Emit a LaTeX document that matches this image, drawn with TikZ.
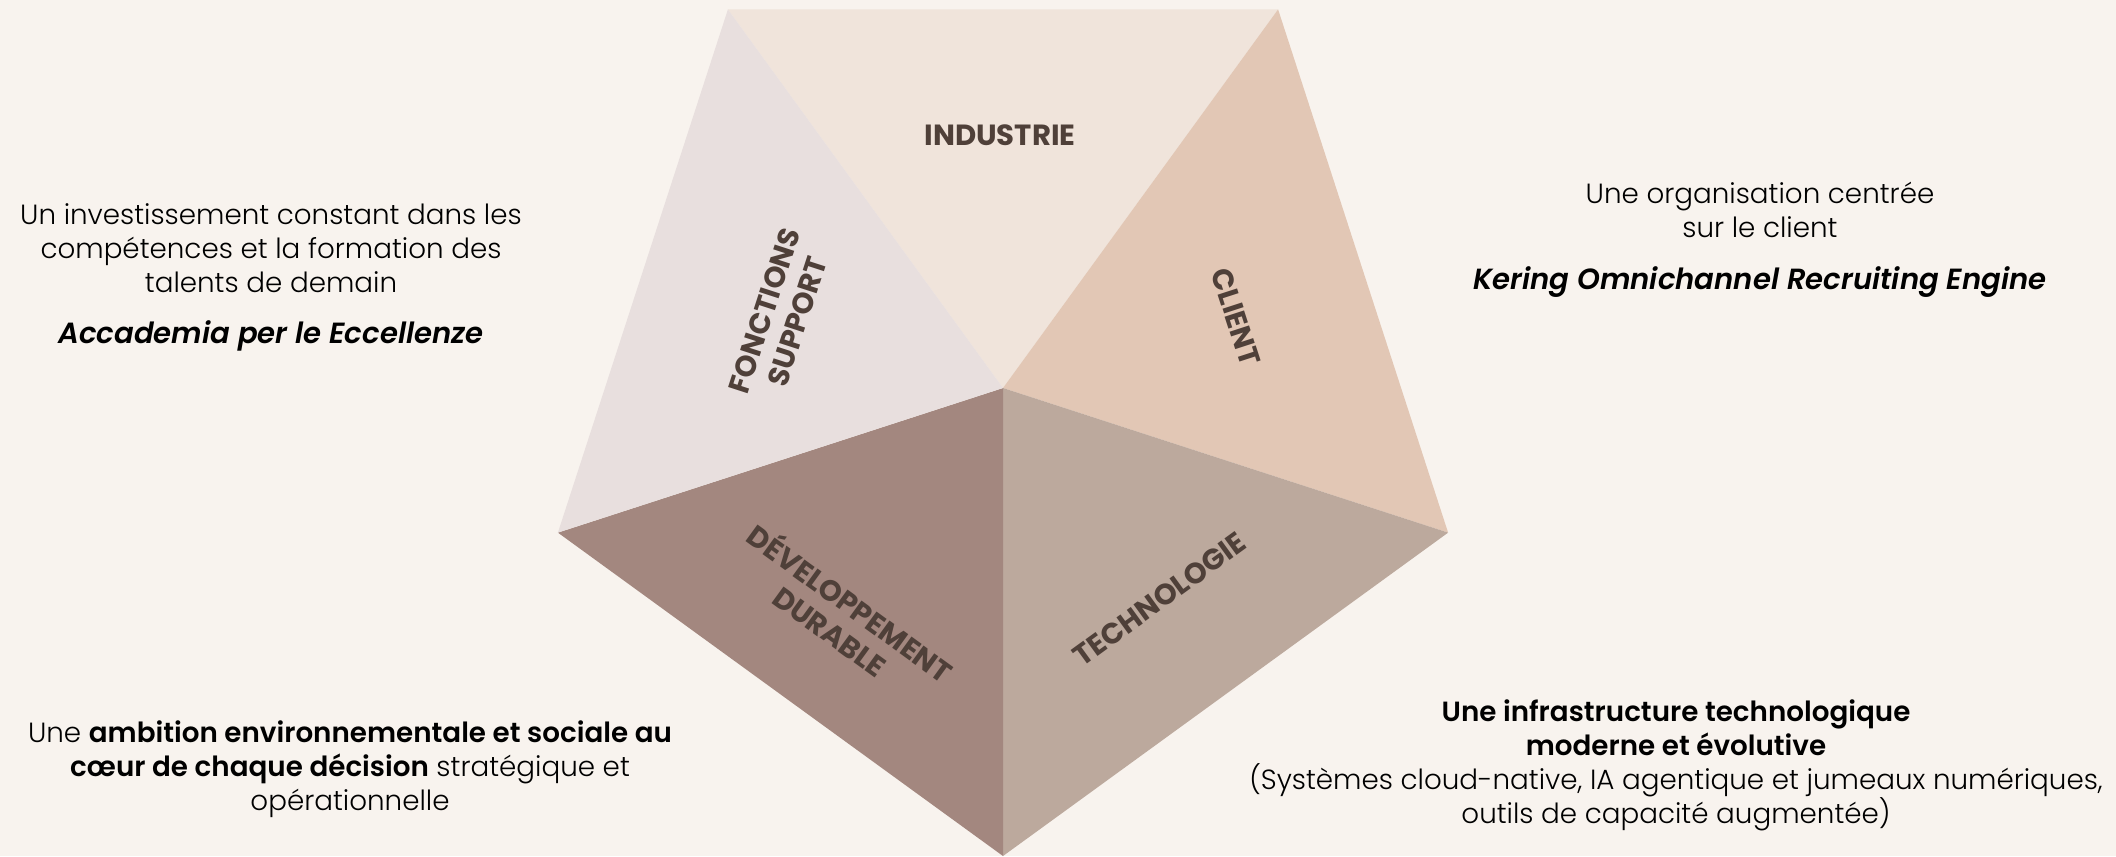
\documentclass[tikz,border=0pt]{standalone}
\usepackage{fontspec}
\setmainfont{Poppins}[UprightFont=* Light, ItalicFont=* Light Italic,
    BoldFont=* SemiBold, BoldItalicFont=* SemiBold Italic]
\newfontfamily\labelfont{Poppins}[UprightFont=* Bold]
\usepackage{xcolor}
\usetikzlibrary{calc,positioning}

\definecolor{bgcol}{HTML}{F8F3EE}
\definecolor{industriecol}{HTML}{F0E4DB}
\definecolor{supportcol}{HTML}{E8DFDE}
\definecolor{clientcol}{HTML}{E2C7B5}
\definecolor{technocol}{HTML}{BCA99D}
\definecolor{durablecol}{HTML}{A3877F}
\definecolor{labelcol}{HTML}{4F4039}

\tikzset{
    sector/.style={font=\labelfont\fontsize{8.3}{9.8}\selectfont, text=labelcol,
        align=center, inner sep=0pt},
    blurb/.style={font=\fontsize{7.9}{9.7}\selectfont, align=center},
    pillar/.style={font=\bfseries\itshape\fontsize{8.3}{9.7}\selectfont}
}

\begin{document}
\begin{tikzpicture}
    \fill[bgcol] (0,0) rectangle (21.16,8.56);
    \useasboundingbox (0,0) rectangle (21.16,8.56);

    % pentagon corners
    \coordinate (c) at (10.03,4.68);
    \foreach \a/\n in {-90/b,-18/r,54/tr,126/tl,198/l}
        \coordinate (\n) at ($(c)+(\a:4.68)$);

    % five sectors
    \fill[industriecol] (c) -- (tl) -- (tr) -- cycle;
    \fill[clientcol]    (c) -- (tr) -- (r)  -- cycle;
    \fill[technocol]    (c) -- (r)  -- (b)  -- cycle;
    \fill[durablecol]   (c) -- (b)  -- (l)  -- cycle;
    \fill[supportcol]   (c) -- (l)  -- (tl) -- cycle;

    \node[sector] (industrie) at ($(barycentric cs:c=1,tl=1,tr=1)+(-0.03,0)$) {INDUSTRIE};
    \node[sector, rotate=72] (support) at ($(barycentric cs:c=1,l=1,tl=1)+(0.18,-0.06)$) {FONCTIONS\\SUPPORT};
    \node[sector, rotate=-72] (client) at ($(barycentric cs:c=1,tr=1,r=1)+(-0.07,-0.07)$) {CLIENT};
    \node[sector, rotate=36] (techno) at ($(barycentric cs:c=1,r=1,b=1)+(0.08,-0.07)$) {TECHNOLOGIE};
    \node[sector, rotate=-36] (durable) at ($(barycentric cs:c=1,b=1,l=1)+(-0.13,-0.23)$) {DÉVELOPPEMENT\\DURABLE};

    % left side
    \node[blurb] (skills) at (2.71,6.08)
        {Un investissement constant dans les\\compétences et la formation des\\talents de demain};
    \node[pillar] (academia) [below=1pt of skills] {Accademia per le Eccellenze};

    \node[blurb] (ambition) at (3.50,0.866)
        {Une \textbf{ambition environnementale et sociale au}\\\textbf{cœur de chaque décision} stratégique et\\opérationnelle};

    % right side
    \node[blurb] (centred) at (17.60,6.46)
        {Une organisation centrée\\sur le client};
    \node[pillar] (kore) [below=1pt of centred] {Kering Omnichannel Recruiting Engine};

    \node[blurb] (infra) at (16.76,0.905)
        {\textbf{Une infrastructure technologique}\\\textbf{moderne et évolutive}\\(Systèmes cloud-native, IA agentique et jumeaux numériques,\\outils de capacité augmentée)};
\end{tikzpicture}
\end{document}
